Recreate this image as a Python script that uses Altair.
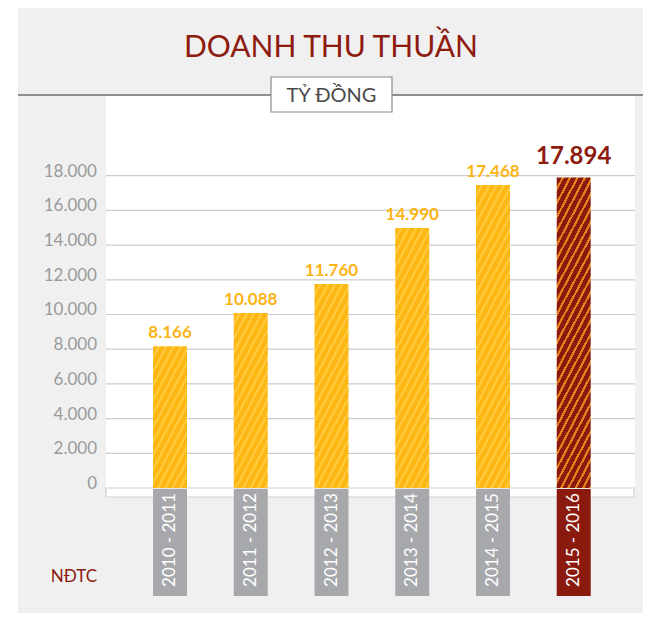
import math
import altair as alt
import pandas as pd

# ---- data ----
periods = ["2010 - 2011", "2011 - 2012", "2012 - 2013", "2013 - 2014", "2014 - 2015", "2015 - 2016"]
revenue = [8166, 10088, 11760, 14990, 17468, 17894]
y_ticks = [0, 2000, 4000, 6000, 8000, 10000, 12000, 14000, 16000, 18000]
grid_ticks = [2000, 4000, 6000, 8000, 10000, 12000, 14000, 16000, 18000]
title_text = "DOANH THU THUẦN"
unit_text = "TỶ ĐỒNG"
source_text = "NĐTC"
highlight = "2015 - 2016"

df = pd.DataFrame({"period": periods, "value": revenue})
one = pd.DataFrame({"d": [0]})

# ---- layout / style ----
W, H = 529, 393
YMAX = 22650
BAR_W = 34
ORANGE = "#FDB714"
ORANGE_STRIPE = "#FFC93A"
RED = "#8B1A0E"
RED_STRIPE = "#E2801C"
TITLE_RED = "#8E1B10"
FONT = "Lato"

xscale = alt.Scale(domain=periods, paddingInner=0.579, paddingOuter=0.5655, align=0.515)
yscale = alt.Scale(domain=[0, YMAX], nice=False, zero=True)


def fmt(field):
    return f"replace(format(datum.{field}, ','), ',', '.')"


def stripes(value, base, stripe, frac, w=BAR_W, period=6.5, k=1.9):
    """Diagonal '/' stripes as a hard-stop linear gradient in bbox units."""
    h = value / YMAX * H
    a, b = k / h, 1.0 / w
    s = (a + b) / (a * a + b * b)
    n = (k * w + h) / (period * math.sqrt(1 + k * k))
    stops = []
    i = 0
    while i < n:
        o0 = min(i / n, 1.0)
        o1 = min((i + 1 - frac) / n, 1.0)
        o2 = min((i + 1) / n, 1.0)
        stops += [(o0, base), (o1, base), (o1, stripe), (o2, stripe)]
        i += 1
    return alt.Gradient(
        gradient="linear", x1=0, y1=0, x2=round(a * s, 5), y2=round(b * s, 5),
        stops=[alt.GradientStop(offset=round(o, 5), color=c) for o, c in stops],
    )


base = alt.Chart(df)
deco = alt.Chart(one)
xenc = alt.X("period:N", scale=xscale, axis=None, sort=periods)

panel = deco.mark_rect(color="#F0F0F0").encode(
    x=alt.value(-88), x2=alt.value(537), y=alt.value(-87), y2=alt.value(518))
plot_bg = deco.mark_rect(color="white").encode(
    x=alt.value(0), x2=alt.value(W), y=alt.value(1), y2=alt.value(H))
top_line = deco.mark_rule(color="#6E6E6E", strokeWidth=1.4).encode(
    x=alt.value(-88), x2=alt.value(537), y=alt.value(0))

grid = alt.Chart(pd.DataFrame({"t": grid_ticks})).mark_rule(
    color="#CDCDCD", strokeWidth=1.2
).encode(
    y=alt.Y("t:Q", scale=yscale, axis=None),
    x=alt.value(0), x2=alt.value(W),
)

ylabels = alt.Chart(pd.DataFrame({"t": y_ticks})).transform_calculate(
    lab=fmt("t")
).mark_text(align="right", baseline="alphabetic", font=FONT, fontSize=17,
            color="#9A9A9A", dy=1).encode(
    y=alt.Y("t:Q", scale=yscale, axis=None),
    x=alt.value(-9),
    text="lab:N",
)

base_box = deco.mark_rect(fill="white", stroke="#D0D0D0", strokeWidth=1.2).encode(
    x=alt.value(0), x2=alt.value(W - 1), y=alt.value(H), y2=alt.value(H + 9))

bar_layers = []
for p, v in zip(periods, revenue):
    if p == highlight:
        grad = stripes(v, RED, RED_STRIPE, 0.33)
    else:
        grad = stripes(v, ORANGE, ORANGE_STRIPE, 0.35)
    bar_layers.append(
        base.transform_filter(alt.datum.period == p).mark_bar(color=grad).encode(
            x=xenc,
            y=alt.Y("value:Q", scale=yscale, axis=None),
        )
    )

tiles = base.mark_bar().encode(
    x=xenc,
    y=alt.value(H + 1), y2=alt.value(H + 108),
    color=alt.condition(alt.datum.period == highlight, alt.value(RED), alt.value("#A7A8AC")),
)
tile_text = base.mark_text(angle=270, align="center", baseline="middle", color="white",
                           font=FONT, fontSize=17).encode(
    x=xenc,
    y=alt.value(H + 52),
    text="period:N",
)

labels = base.transform_filter(alt.datum.period != highlight).transform_calculate(
    lab=fmt("value")
).mark_text(dy=-8, baseline="alphabetic", fontWeight="bold", fontSize=17,
            color="#FBB415", font=FONT).encode(
    x=xenc,
    y=alt.Y("value:Q", scale=yscale, axis=None),
    text="lab:N",
)
label_last = base.transform_filter(alt.datum.period == highlight).transform_calculate(
    lab=fmt("value")
).mark_text(dy=-14, baseline="alphabetic", fontWeight="bold", fontSize=24,
            color=TITLE_RED, font=FONT).encode(
    x=xenc,
    y=alt.Y("value:Q", scale=yscale, axis=None),
    text="lab:N",
)

title = deco.mark_text(text=title_text, font=FONT, fontSize=30, color=TITLE_RED,
                       align="center", baseline="alphabetic").encode(
    x=alt.value(225), y=alt.value(-38))
unit_box = deco.mark_rect(fill="white", stroke="#8A8A8A", strokeWidth=1.2).encode(
    x=alt.value(165), x2=alt.value(286), y=alt.value(-18), y2=alt.value(17))
unit = deco.mark_text(text=unit_text, font=FONT, fontSize=20, color="#4A4A4A",
                      align="center", baseline="alphabetic").encode(
    x=alt.value(225.5), y=alt.value(7))
source = deco.mark_text(text=source_text, font=FONT, fontSize=17, color=TITLE_RED,
                        align="right", baseline="alphabetic").encode(
    x=alt.value(-9), y=alt.value(487))

chart = alt.layer(
    panel, plot_bg, top_line, grid, ylabels, base_box, *bar_layers, tiles, tile_text,
    labels, label_last, title, unit_box, unit, source,
).properties(
    width=W, height=H,
    autosize=alt.AutoSizeParams(type="none"),
    padding={"left": 98, "top": 87, "right": 8, "bottom": 125},
    background="white",
).configure_view(stroke=None)

chart.save("out.html", embed_options={"renderer": "svg", "actions": False})
